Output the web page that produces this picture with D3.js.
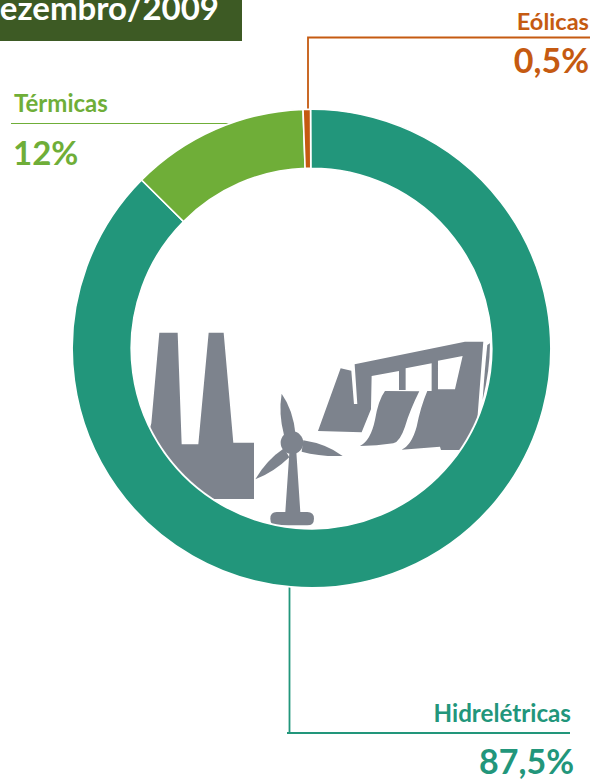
<!DOCTYPE html>
<html><head><meta charset="utf-8">
<script src="https://cdn.jsdelivr.net/npm/d3@7/dist/d3.min.js"></script>
<style>html,body{margin:0;padding:0;background:#fff;overflow:hidden}svg{display:block}text{font-family:Lato,"Open Sans",sans-serif;font-weight:700}</style>
</head><body><div id="c"></div>
<script>
const categories=["Hidrelétricas","Térmicas","Eólicas"];
const values=[87.5,12,0.5];
const valueLabels=["87,5%","12%","0,5%"];
const colors=["#22967b","#6fae38","#c55a11"];
const title="Dezembro/2009";
const W=597,H=779,cx=311.5,cy=348.5,R=239.3,r=180.3;
const svg=d3.select("#c").append("svg").attr("width",W).attr("height",H);

// title
svg.append("rect").attr("x",0).attr("y",0).attr("width",242).attr("height",41).attr("fill","#3d5a24");
svg.append("text").attr("x",219).attr("y",20).attr("text-anchor","end").attr("font-size",33).attr("fill","#fff").text(title);

// leaders
const leader=[
 {i:0,d:"M289.5,586V733M287,733H570",w:1.8},
 {i:1,d:"M11,123.5H240",w:1},
 {i:2,d:"M308,111V37.5H590",w:1.8}];
svg.selectAll("path.leader").data(leader).join("path").attr("class","leader")
 .attr("d",d=>d.d).attr("fill","none").attr("stroke",d=>colors[d.i]).attr("stroke-width",d=>d.w);

// donut
const pie=d3.pie().sort(null).startAngle(-0.004).endAngle(2*Math.PI-0.004)(values);
const arc=d3.arc().innerRadius(r).outerRadius(R);
svg.append("g").attr("transform",`translate(${cx},${cy})`)
 .selectAll("path").data(pie).join("path").attr("d",arc)
 .attr("fill",(d,i)=>colors[i]).attr("stroke","#fff").attr("stroke-width",1.6);

// labels
const labels=[
 {i:0,x:571,y:722,s:24.2,vx:574,vy:774,vs:34,a:"end"},
 {i:1,x:14,y:112,s:24,vx:13,vy:165,vs:33,a:"start"},
 {i:2,x:589,y:30,s:23.6,vx:589,vy:73,vs:34,a:"end"}];
labels.forEach(l=>{
 svg.append("text").attr("x",l.x).attr("y",l.y).attr("text-anchor",l.a).attr("font-size",l.s).attr("fill",colors[l.i]).text(categories[l.i]);
 svg.append("text").attr("x",l.vx).attr("y",l.vy).attr("text-anchor",l.a).attr("font-size",l.vs).attr("fill",colors[l.i]).text(valueLabels[l.i]);
});

// pictogram
svg.append("clipPath").attr("id","inner").append("circle").attr("cx",cx).attr("cy",cy).attr("r",r-1);
const icon=svg.append("g").attr("clip-path","url(#inner)").append("g")
 .attr("transform","translate(130,320) scale(0.3333)").attr("fill","#7d838d");
[
 // factory
 "M64,310L88,38H143L155,373H205L236,38H281L310,368H372V537H200L40,400Z",
 // turbine
 "M478,400L466,576H440Q421,576 421,596Q421,616 440,616H532Q552,616 552,596Q552,576 532,576H511L499,395Z",
 "M452,368A34,34 0 1 1 520,368A34,34 0 1 1 452,368Z",
 "M455,221Q490,270 497,345L462,345Q445,280 455,221Z",
 "M520,361Q590,372 638,408Q570,410 515,395Z",
 "M462,385L478,412Q430,458 376,478Q410,420 462,385Z",
 // dam with window hole
 "M564,333L632,145L664,152L672,252L682,252L674,133L1005,65H1060L1035,390H933L930,380L815,389Q845,375 860,320Q872,260 892,213H905V130L827,145V210H807V153L725,168L723,268L695,337ZM924,122L998,108L975,208H924Z",
 // spillway
 "M690,378Q722,362 735,300Q745,240 765,213L868,214Q840,270 825,320Q810,365 790,370Q740,378 690,378Z",
 // right edge sliver
 "M1072,75L1080,70Q1080,150 1058,240Q1064,150 1072,75Z"
].forEach(d=>icon.append("path").attr("fill-rule","evenodd").attr("d",d));
</script></body></html>
